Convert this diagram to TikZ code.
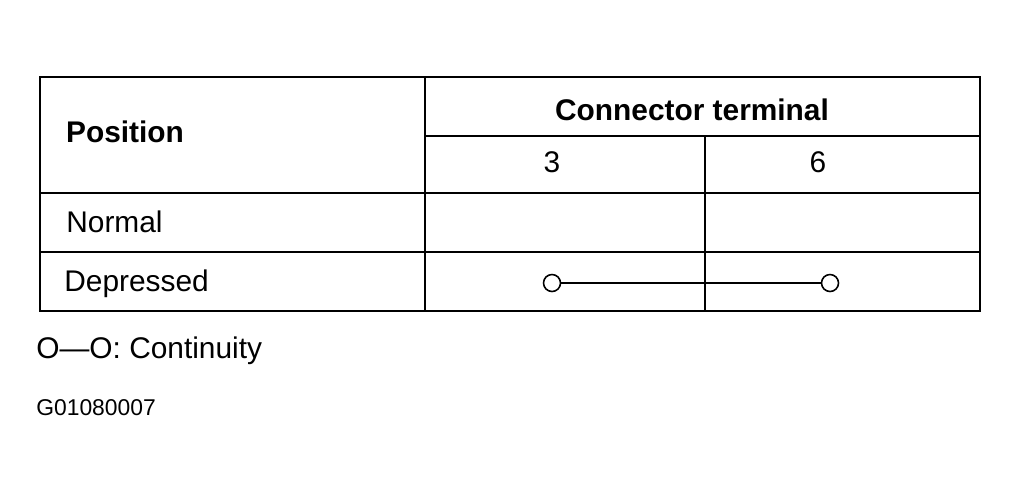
\documentclass[tikz,border=0pt]{standalone}
\usepackage{fontspec}
\setmainfont{Liberation Sans}
\usetikzlibrary{positioning}

\begin{document}
\begin{tikzpicture}[x=0.02cm,y=-0.02cm]
	\tikzset{txt/.style={font=\fontsize{17}{20}\selectfont,inner sep=0pt}}
	\tikzset{term/.style={circle,draw,line width=0.9pt,minimum size=17\pgflinewidth,inner sep=0pt,minimum size=0.34cm}}
	\useasboundingbox (0,0) rectangle (1020,488);
	% table frame
	\draw[line width=1.2pt] (40,77) rectangle (980,311);
	\draw[line width=1.2pt] (425,77) -- (425,311);
	\draw[line width=1.2pt] (425,136) -- (980,136);
	\draw[line width=1.2pt] (705,136) -- (705,311);
	\draw[line width=1.2pt] (40,193) -- (980,193);
	\draw[line width=1.2pt] (40,252) -- (980,252);
	% texts
	\node[txt,font=\fontsize{17}{20}\selectfont\bfseries] (pos) at (125,132) {Position};
	\node[txt,font=\fontsize{17}{20}\selectfont\bfseries] (conn) at (692,110) {Connector terminal};
	\node[txt] (t3) at (552,162) {3};
	\node[txt] (t6) at (818,162) {6};
	\node[txt,anchor=west] (normal) at (66,222) {Normal};
	\node[txt,anchor=west] (depr) at (64,284) {Depressed};
	% continuity
	\node[term] (c3) at (552,283) {};
	\node[term] (c6) at (830,283) {};
	\draw[line width=0.9pt] (c3) -- (c6);
	% legend
	\node[txt,anchor=west] (legend) at (36,351) {O—O: Continuity};
	\node[txt,anchor=west,font=\fontsize{13}{15}\selectfont] (code) at (36,408) {G01080007};
\end{tikzpicture}
\end{document}
